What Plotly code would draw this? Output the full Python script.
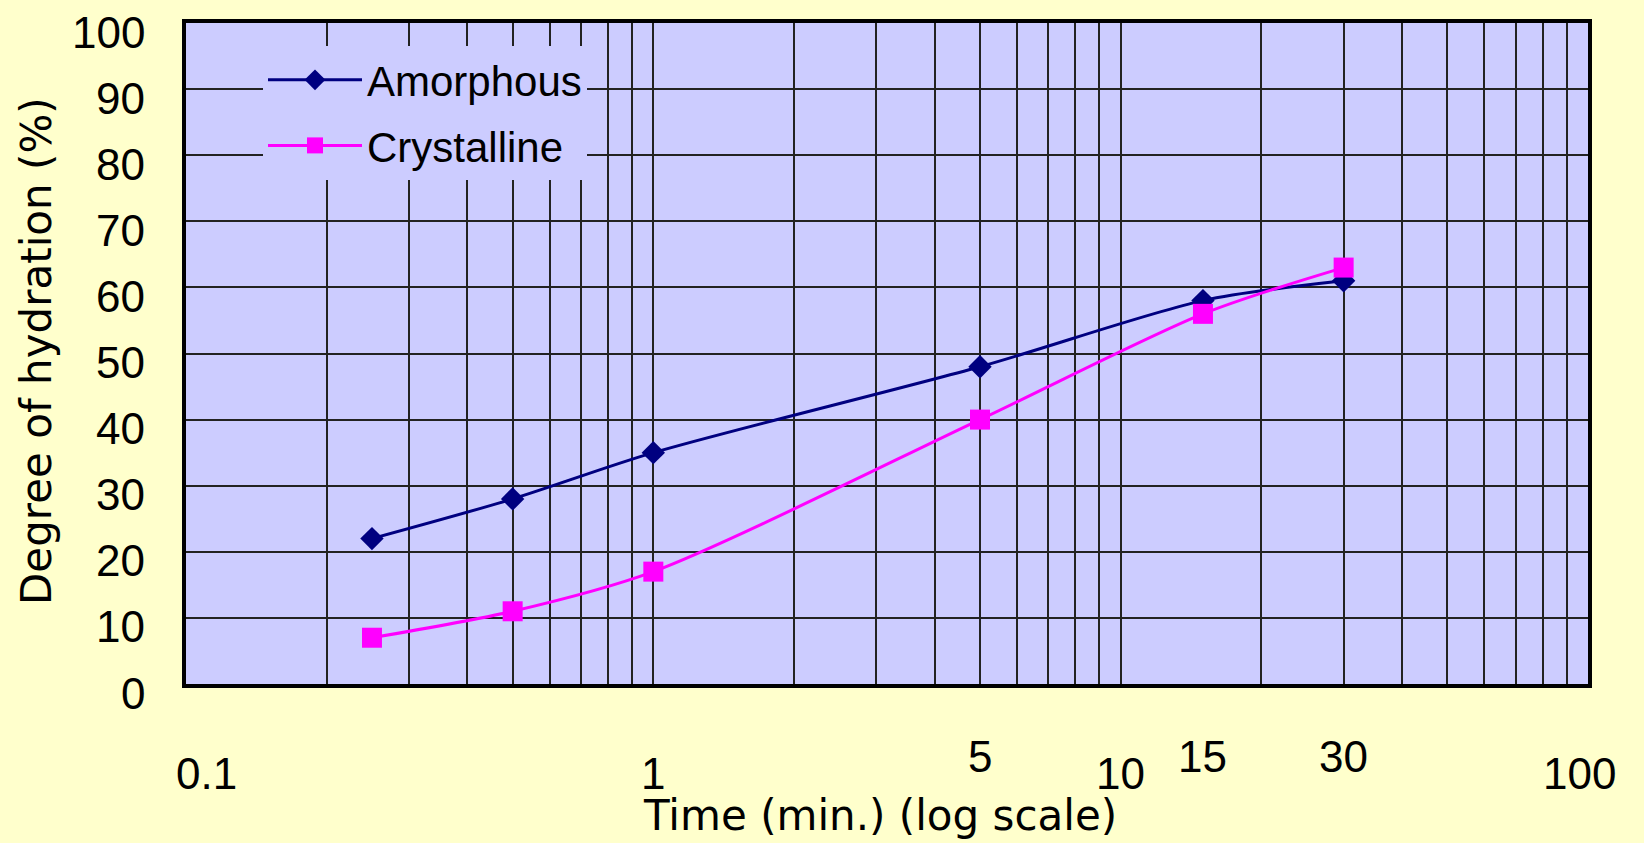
import math
import plotly.graph_objects as go

time_min = [0.25, 0.5, 1, 5, 15, 30]
amorphous = [22, 28, 35, 48, 58, 61]
crystalline = [7, 11, 17, 40, 56, 63]

x_labels_low = ["0.1", "1", "10", "100"]
x_values_low = [0.1, 1, 10, 100]
x_labels_high = ["5", "15", "30"]
x_values_high = [5, 15, 30]
y_ticks = [0, 10, 20, 30, 40, 50, 60, 70, 80, 90, 100]

FONT = "Liberation Sans"
TFONT = "DejaVu Sans"

W, H = 1644, 843
L, T = 186, 23
R = W - 1588
B = H - 684
pw = W - L - R
ph = H - T - B


def py(screen_y):
    return (H - B - screen_y) / ph


def px(screen_x):
    return (screen_x - L) / pw


fig = go.Figure()
fig.add_trace(go.Scatter(
    x=time_min, y=amorphous, name="Amorphous", mode="lines+markers",
    line=dict(color="#000080", width=3, shape="spline", smoothing=0.8),
    marker=dict(symbol="diamond", size=18, color="#000080"),
    legendgroup="a"))
fig.add_trace(go.Scatter(
    x=time_min, y=crystalline, name="Crystalline", mode="lines+markers",
    line=dict(color="#FF00FF", width=3, shape="spline", smoothing=0.8),
    marker=dict(symbol="square", size=20, color="#FF00FF"),
    legendgroup="c"))

fig.update_layout(
    width=W, height=H, autosize=False,
    margin=dict(l=L, r=R, t=T, b=B, pad=0),
    paper_bgcolor="#FFFFCC", plot_bgcolor="#CCCCFF",
    font=dict(family=FONT, size=40, color="black"),
    showlegend=True,
    legend=dict(x=px(263), y=py(46), xanchor="left", yanchor="top",
                bgcolor="#CCCCFF", borderwidth=0, font=dict(size=42, family=FONT),
                itemwidth=94, tracegroupgap=8),
)
fig.update_xaxes(
    type="log", range=[-1, 2], dtick="D1", showticklabels=False,
    showgrid=True, gridcolor="#222222", gridwidth=1.5,
    showline=True, linecolor="black", linewidth=4, mirror=True, ticks="",
    zeroline=False)
fig.update_yaxes(
    range=[0, 100], tickvals=y_ticks, showticklabels=False,
    showgrid=True, gridcolor="#222222", gridwidth=1.5,
    showline=True, linecolor="black", linewidth=4, mirror=True, ticks="",
    zeroline=False)

for v in y_ticks:
    fig.add_annotation(x=px(147), y=v, xref="paper", yref="y",
                       text=str(v), showarrow=False, xanchor="right", yanchor="middle",
                       yshift=-9, font=dict(size=44, family=FONT))

for lab, v, xs in zip(x_labels_low, x_values_low, [20, 0, 0, -9]):
    fig.add_annotation(x=math.log10(v), y=py(773), xref="x", yref="paper",
                       text=lab, showarrow=False, xanchor="center", yanchor="middle",
                       xshift=xs, font=dict(size=44, family=FONT))
for lab, v in zip(x_labels_high, x_values_high):
    fig.add_annotation(x=math.log10(v), y=py(756), xref="x", yref="paper",
                       text=lab, showarrow=False, xanchor="center", yanchor="middle",
                       font=dict(size=44, family=FONT))

fig.add_annotation(x=px(880), y=py(815), xref="paper", yref="paper",
                   text="Time (min.) (log scale)", showarrow=False,
                   xanchor="center", yanchor="middle", font=dict(size=42, family=TFONT))
fig.add_annotation(x=px(36), y=py(351), xref="paper", yref="paper",
                   text="Degree of hydration (%)", showarrow=False, textangle=-90,
                   xanchor="center", yanchor="middle", font=dict(size=42, family=TFONT))

fig.write_html(
    "out.html",
    config={"displayModeBar": False},
    post_script="document.body.style.margin='0';document.body.style.overflow='hidden';"
                "document.body.style.background='#FFFFCC';",
)
